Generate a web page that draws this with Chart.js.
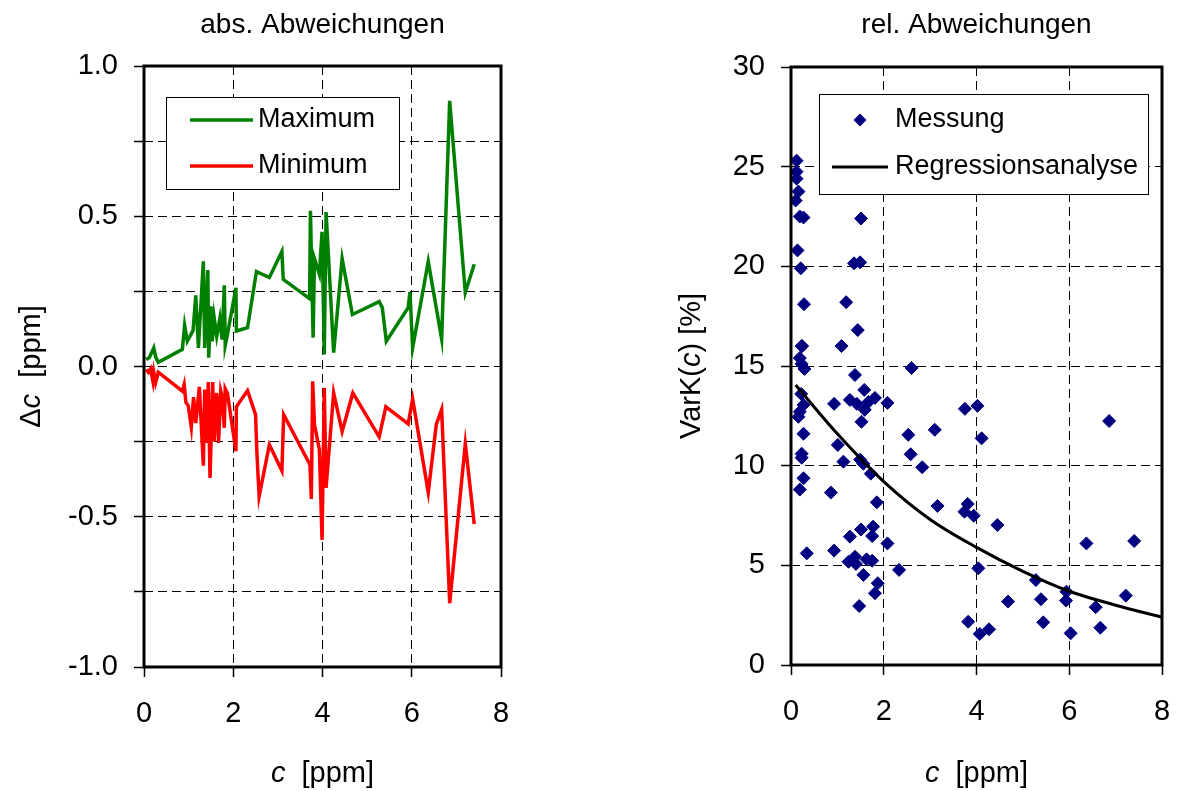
<!DOCTYPE html>
<html>
  <head>
    <meta charset="utf-8">
    <title>abs. / rel. Abweichungen</title>
    <script src="https://cdn.jsdelivr.net/npm/chart.js@4.4.0/dist/chart.umd.min.js"></script>
    <style>
      body { margin: 0; background: #fff; }
      #absBox { position: absolute; left: 0; top: 0; }
      #relBox { position: absolute; left: 590px; top: 0; }
    </style>
  </head>

  <body>
    <div id="absBox"><canvas id="absChart" width="590" height="791"></canvas></div>
    <div id="relBox"><canvas id="relChart" width="589" height="791"></canvas></div>
    <script>
      // left chart: max / min deviation vs. concentration
      const maxC = [0.05, 0.12, 0.22, 0.26, 0.32, 0.86, 0.91, 0.97, 1.10, 1.16, 1.22, 1.33, 1.36, 1.43, 1.45,
        1.50, 1.53, 1.57, 1.63, 1.70, 1.75, 1.80, 1.82, 1.87, 2.06, 2.07, 2.32, 2.52, 2.81, 3.09, 3.12,
        3.71, 3.73, 3.79, 3.82, 3.93, 3.99, 4.04, 4.08, 4.25, 4.44, 4.67, 5.27, 5.34, 5.43, 5.92, 5.96,
        6.02, 6.37, 6.67, 6.85, 7.20, 7.40];
      const maxDev = [0.023, 0.030, 0.062, 0.032, 0.014, 0.057, 0.137, 0.084, 0.120, 0.237, 0.062, 0.350, 0.062, 0.321, 0.029,
        0.200, 0.084, 0.165, 0.100, 0.160, 0.090, 0.270, 0.070, 0.107, 0.262, 0.118, 0.129, 0.316, 0.296, 0.383, 0.290,
        0.226, 0.518, 0.096, 0.359, 0.307, 0.448, 0.040, 0.514, 0.046, 0.359, 0.173, 0.216, 0.196, 0.084, 0.196, 0.248,
        0.062, 0.349, 0.092, 0.884, 0.246, 0.340];
      const minC = [0.05, 0.10, 0.15, 0.20, 0.22, 0.26, 0.32, 0.86, 0.90, 0.94, 0.99, 1.06, 1.11, 1.16, 1.24,
        1.33, 1.36, 1.42, 1.44, 1.48, 1.54, 1.57, 1.63, 1.67, 1.72, 1.75, 1.80, 1.82, 1.87, 2.06, 2.07,
        2.32, 2.50, 2.53, 2.58, 2.81, 3.09, 3.13, 3.72, 3.75, 3.78, 3.82, 3.93, 3.99, 4.04, 4.08, 4.25,
        4.44, 4.68, 5.27, 5.42, 5.92, 6.02, 6.37, 6.55, 6.67, 6.85, 7.20, 7.40];
      const minDev = [-0.010, -0.020, -0.008, -0.049, -0.020, -0.054, -0.019, -0.082, -0.060, -0.120, -0.130, -0.202, -0.102, -0.188, -0.068,
        -0.330, -0.077, -0.254, -0.052, -0.371, -0.052, -0.249, -0.088, -0.254, -0.082, -0.100, -0.204, -0.074, -0.090, -0.282, -0.134,
        -0.080, -0.160, -0.288, -0.432, -0.260, -0.347, -0.160, -0.327, -0.441, -0.049, -0.193, -0.277, -0.577, -0.071, -0.404, -0.088,
        -0.216, -0.088, -0.234, -0.134, -0.191, -0.108, -0.419, -0.193, -0.143, -0.788, -0.257, -0.524];

      // right chart: coefficient of variation, measured points
      const measC = [0.12, 0.12, 0.12, 0.16, 0.10, 0.19, 0.27, 1.51, 0.14, 0.21, 1.36, 1.49, 0.28, 1.19, 1.44,
        0.24, 1.09, 0.23, 0.19, 0.23, 0.29, 1.38, 1.58, 0.22, 0.27, 0.93, 1.27, 1.42, 1.67, 1.81, 1.59,
        2.08, 0.19, 0.16, 1.52, 0.27, 1.01, 0.23, 0.23, 1.13, 1.49, 1.56, 1.72, 0.27, 0.19, 0.86, 1.85,
        1.51, 1.77, 1.27, 1.75, 2.08, 0.34, 0.93, 1.24, 1.38, 1.40, 1.63, 1.75, 1.56, 1.87, 1.81, 1.47,
        2.33, 2.60, 2.53, 3.10, 2.58, 2.83, 3.75, 4.02, 4.11, 6.86, 3.16, 3.81, 3.74, 3.94, 4.45, 4.04,
        5.28, 4.68, 5.39, 5.94, 5.93, 6.57, 7.22, 6.37, 7.40, 3.82, 4.07, 4.27, 5.44, 6.03, 6.67];
      const measVarK = [25.3, 24.75, 24.4, 23.75, 23.3, 22.5, 22.45, 22.4, 20.8, 19.9, 20.15, 20.2, 18.1, 18.2, 16.8,
        16.0, 16.0, 16.0, 15.4, 15.1, 14.85, 14.55, 13.8, 13.6, 13.05, 13.1, 13.3, 13.1, 13.2, 13.4, 12.8,
        13.15, 12.7, 12.45, 12.2, 11.6, 11.04, 10.6, 10.4, 10.2, 10.3, 10.1, 9.6, 9.37, 8.8, 8.65, 8.16,
        6.8, 6.94, 6.44, 6.47, 6.1, 5.6, 5.74, 5.18, 5.43, 5.07, 5.3, 5.23, 4.52, 4.1, 3.6, 2.96,
        4.77, 14.9, 11.55, 11.8, 10.57, 9.92, 12.85, 13.0, 11.37, 12.24, 7.98, 8.08, 7.69, 7.49, 7.02, 4.85,
        4.26, 3.18, 3.3, 3.68, 3.23, 2.9, 3.48, 6.1, 6.22, 2.17, 1.56, 1.79, 2.14, 1.59, 1.87];
      // regression curve
      const regC = [0.1, 1, 2, 3, 4, 5, 6, 7, 8];
      const regVarK = [14.05, 11.6, 9.2, 7.3, 5.9, 4.7, 3.7, 3.0, 2.4];

      const FONT = "'Liberation Sans', Arial, sans-serif";
      Chart.defaults.font.family = FONT;
      Chart.defaults.color = '#000';

      const pts = (xs, ys) => xs.map((x, i) => ({ x: x, y: ys[i] }));

      function richText(ctx, parts, size, x, y, angle) {
        ctx.save();
        ctx.translate(x, y);
        ctx.rotate(angle || 0);
        ctx.fillStyle = '#000';
        ctx.textBaseline = 'alphabetic';
        let total = 0;
        parts.forEach((p) => {
          ctx.font = (p.i ? 'italic ' : '') + size + 'px ' + FONT;
          p.w = ctx.measureText(p.t).width;
          total += p.w;
        });
        let cx = -total / 2;
        parts.forEach((p) => {
          ctx.font = (p.i ? 'italic ' : '') + size + 'px ' + FONT;
          ctx.fillText(p.t, cx, 0);
          cx += p.w;
        });
        ctx.restore();
      }

      // frame, titles and axis titles
      const decor = {
        id: 'decor',
        afterDatasetsDraw(chart, args, o) {
          const { ctx, chartArea: a } = chart;
          ctx.save();
          ctx.lineWidth = 3;
          ctx.strokeStyle = '#000';
          ctx.strokeRect(a.left, a.top, a.right - a.left, a.bottom - a.top);
          ctx.restore();
        },
        afterDraw(chart, args, o) {
          const { ctx, chartArea: a } = chart;
          const mid = (a.left + a.right) / 2;
          richText(ctx, [{ t: o.title }], 28, mid, 33, 0);
          richText(ctx, o.xTitle, 29, mid, 782, 0);
          richText(ctx, o.yTitle, 29, o.yTitleX, (a.top + a.bottom) / 2, -Math.PI / 2);
        },
      };

      // boxed legend inside the plot
      const boxLegend = {
        id: 'boxLegend',
        afterDraw(chart, args, o) {
          const ctx = chart.ctx;
          ctx.save();
          ctx.fillStyle = '#fff';
          ctx.fillRect(o.x, o.y, o.w, o.h);
          ctx.strokeStyle = '#000';
          ctx.lineWidth = 1;
          ctx.strokeRect(o.x + 0.5, o.y + 0.5, o.w, o.h);
          ctx.font = '27px ' + FONT;
          ctx.textBaseline = 'middle';
          chart.data.datasets.forEach((ds, i) => {
            const y = o.rowY[i];
            if (ds.pointRadius > 0 && !ds.showLine) {
              const cx = (o.sx1 + o.sx2) / 2, r = ds.pointRadius;
              ctx.fillStyle = ds.backgroundColor;
              ctx.beginPath();
              ctx.moveTo(cx, y - r);
              ctx.lineTo(cx + r, y);
              ctx.lineTo(cx, y + r);
              ctx.lineTo(cx - r, y);
              ctx.closePath();
              ctx.fill();
            } else {
              ctx.strokeStyle = ds.borderColor;
              ctx.lineWidth = ds.borderWidth;
              ctx.beginPath();
              ctx.moveTo(o.sx1, y);
              ctx.lineTo(o.sx2, y);
              ctx.stroke();
            }
            ctx.fillStyle = '#000';
            ctx.fillText(ds.label, o.tx, y);
          });
          ctx.restore();
        },
      };

      const gridOpts = { color: '#000', lineWidth: 1, tickLength: 10, tickColor: '#000', tickWidth: 1.5 };
      const borderOpts = { display: false, dash: [9, 5] };
      // fixed axis height, no extra side padding for the end labels
      const fitX = (h) => (s) => { s.height = h; s.paddingLeft = 0; s.paddingRight = 0; };

      new Chart(document.getElementById('absChart'), {
        type: 'line',
        data: {
          datasets: [
            { label: 'Maximum', data: pts(maxC, maxDev), borderColor: '#008000', borderWidth: 3.5, pointRadius: 0, tension: 0 },
            { label: 'Minimum', data: pts(minC, minDev), borderColor: '#ff0000', borderWidth: 3.5, pointRadius: 0, tension: 0 },
          ],
        },
        options: {
          responsive: false,
          animation: false,
          events: [],
          layout: { padding: { left: 0, right: 89, top: 66, bottom: 0 } },
          scales: {
            x: {
              type: 'linear', min: 0, max: 8,
              afterFit: fitX(124),
              ticks: { stepSize: 2, padding: 20, font: { size: 29 }, maxRotation: 0, autoSkip: false },
              grid: gridOpts, border: borderOpts,
            },
            y: {
              type: 'linear', min: -1, max: 1,
              afterFit: (s) => { s.width = 144; },
              ticks: {
                stepSize: 0.25, padding: 16, font: { size: 29 }, autoSkip: false,
                callback: (v) => (Math.abs(v * 2 - Math.round(v * 2)) < 1e-6 ? v.toFixed(1) : ''),
              },
              grid: gridOpts, border: borderOpts,
            },
          },
          plugins: {
            legend: { display: false },
            tooltip: { enabled: false },
            decor: {
              title: 'abs. Abweichungen',
              xTitle: [{ t: 'c', i: true }, { t: '  [ppm]' }],
              yTitle: [{ t: '\u0394' }, { t: 'c', i: true }, { t: '  [ppm]' }],
              yTitleX: 40,
            },
            boxLegend: { x: 166, y: 97, w: 233, h: 92, rowY: [120, 166], sx1: 190, sx2: 253, tx: 258 },
          },
        },
        plugins: [decor, boxLegend],
      });

      new Chart(document.getElementById('relChart'), {
        type: 'scatter',
        data: {
          datasets: [
            { label: 'Messung', data: pts(measC, measVarK), backgroundColor: '#000080', borderColor: '#000080',
              pointStyle: 'rectRot', pointRadius: 6.5, borderWidth: 1, showLine: false, order: 1 },
            { label: 'Regressionsanalyse', data: pts(regC, regVarK), borderColor: '#000', borderWidth: 3,
              pointRadius: 0, showLine: true, cubicInterpolationMode: 'monotone', order: 0 },
          ],
        },
        options: {
          responsive: false,
          animation: false,
          events: [],
          layout: { padding: { left: 0, right: 17, top: 67, bottom: 0 } },
          scales: {
            x: {
              type: 'linear', min: 0, max: 8,
              afterFit: fitX(126),
              ticks: { stepSize: 2, padding: 20, font: { size: 29 }, maxRotation: 0, autoSkip: false },
              grid: gridOpts, border: borderOpts,
            },
            y: {
              type: 'linear', min: 0, max: 30,
              afterFit: (s) => { s.width = 201; },
              ticks: { stepSize: 5, padding: 16, font: { size: 29 }, autoSkip: false },
              grid: gridOpts, border: borderOpts,
            },
          },
          plugins: {
            legend: { display: false },
            tooltip: { enabled: false },
            decor: {
              title: 'rel. Abweichungen',
              xTitle: [{ t: 'c', i: true }, { t: '  [ppm]' }],
              yTitle: [{ t: 'VarK(' }, { t: 'c', i: true }, { t: ') [%]' }],
              yTitleX: 110,
            },
            boxLegend: { x: 229, y: 94, w: 329, h: 100, rowY: [120, 167], sx1: 242, sx2: 298, tx: 305 },
          },
        },
        plugins: [decor, boxLegend],
      });
    </script>
  </body>
</html>
